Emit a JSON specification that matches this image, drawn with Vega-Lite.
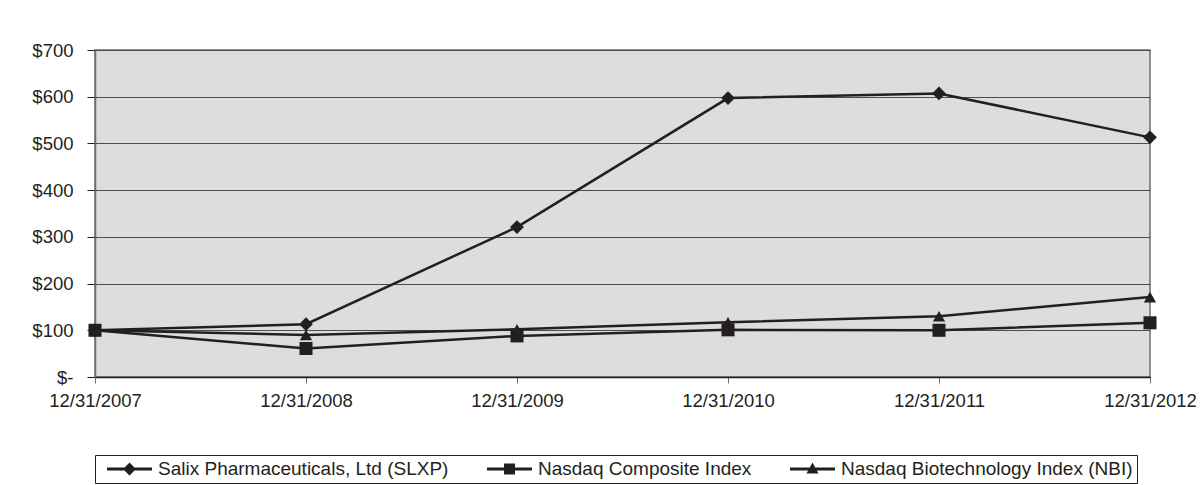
{
  "$schema": "https://vega.github.io/schema/vega-lite/v6.json",
  "width": 1055,
  "height": 327,
  "autosize": "none",
  "padding": {"left": 95, "top": 50, "right": 52, "bottom": 108},
  "background": "white",
  "config": {
    "font": "Liberation Sans",
    "view": {"fill": "#dcdddf", "stroke": "#6d6e71", "strokeWidth": 1.5},
    "axis": {"labelFont": "Liberation Sans", "labelFontSize": 18.5, "labelColor": "#231f20"}
  },
  "data": {
    "values": [
      {"date": "12/31/2007", "series": "Salix Pharmaceuticals, Ltd (SLXP)", "value": 100},
      {"date": "12/31/2008", "series": "Salix Pharmaceuticals, Ltd (SLXP)", "value": 113},
      {"date": "12/31/2009", "series": "Salix Pharmaceuticals, Ltd (SLXP)", "value": 321},
      {"date": "12/31/2010", "series": "Salix Pharmaceuticals, Ltd (SLXP)", "value": 597},
      {"date": "12/31/2011", "series": "Salix Pharmaceuticals, Ltd (SLXP)", "value": 607},
      {"date": "12/31/2012", "series": "Salix Pharmaceuticals, Ltd (SLXP)", "value": 513},
      {"date": "12/31/2007", "series": "Nasdaq Composite Index", "value": 100},
      {"date": "12/31/2008", "series": "Nasdaq Composite Index", "value": 61},
      {"date": "12/31/2009", "series": "Nasdaq Composite Index", "value": 88},
      {"date": "12/31/2010", "series": "Nasdaq Composite Index", "value": 101},
      {"date": "12/31/2011", "series": "Nasdaq Composite Index", "value": 100},
      {"date": "12/31/2012", "series": "Nasdaq Composite Index", "value": 116},
      {"date": "12/31/2007", "series": "Nasdaq Biotechnology Index (NBI)", "value": 100},
      {"date": "12/31/2008", "series": "Nasdaq Biotechnology Index (NBI)", "value": 90},
      {"date": "12/31/2009", "series": "Nasdaq Biotechnology Index (NBI)", "value": 102},
      {"date": "12/31/2010", "series": "Nasdaq Biotechnology Index (NBI)", "value": 117},
      {"date": "12/31/2011", "series": "Nasdaq Biotechnology Index (NBI)", "value": 130},
      {"date": "12/31/2012", "series": "Nasdaq Biotechnology Index (NBI)", "value": 171}
    ]
  },
  "encoding": {
    "x": {
      "field": "date", "type": "ordinal", "sort": null,
      "scale": {"type": "point", "padding": 0},
      "axis": {"title": null, "labelAngle": 0, "grid": false, "domain": true, "domainColor": "#231f20", "domainWidth": 1.5, "tickSize": 6, "tickColor": "#6d6e71", "labelPadding": 8}
    },
    "y": {
      "field": "value", "type": "quantitative",
      "scale": {"domain": [0, 700], "nice": false},
      "axis": {
        "title": null, "values": [0, 100, 200, 300, 400, 500, 600, 700],
        "labelExpr": "datum.value == 0 ? '$-\u00a0\u00a0\u00a0' : '$' + datum.value",
        "grid": true, "gridColor": "#4d4d4f", "gridWidth": 1.2,
        "domain": true, "domainColor": "#6d6e71", "domainWidth": 1.5,
        "tickSize": 8, "tickColor": "#231f20", "labelPadding": 14
      }
    }
  },
  "layer": [
    {
      "mark": {"type": "line", "color": "#231f20", "strokeWidth": 2.5},
      "encoding": {"detail": {"field": "series"}}
    },
    {
      "mark": {"type": "point", "filled": true, "color": "#231f20", "opacity": 1},
      "encoding": {
        "shape": {
          "field": "series",
          "scale": {"domain": ["Salix Pharmaceuticals, Ltd (SLXP)", "Nasdaq Composite Index", "Nasdaq Biotechnology Index (NBI)"], "range": ["diamond", "square", "triangle-up"]},
          "legend": null
        },
        "size": {
          "field": "series", "type": "nominal",
          "scale": {"domain": ["Salix Pharmaceuticals, Ltd (SLXP)", "Nasdaq Composite Index", "Nasdaq Biotechnology Index (NBI)"], "range": [190, 150, 170]},
          "legend": null
        }
      }
    },
    {
      "transform": [{"filter": "false"}],
      "mark": {"type": "point", "filled": true, "color": "#231f20", "opacity": 1},
      "encoding": {
        "shape": {
          "field": "series",
          "scale": {
            "domain": ["Salix Pharmaceuticals, Ltd (SLXP)", "Nasdaq Composite Index", "Nasdaq Biotechnology Index (NBI)"],
            "range": [
              "M-0.2,-0.14H4.3V0.14H-0.2Z M2.05,-0.65L2.7,0L2.05,0.65L1.4,0Z",
              "M-0.2,-0.14H4.3V0.14H-0.2Z M1.5,-0.55H2.6V0.55H1.5Z",
              "M-0.2,-0.14H4.3V0.14H-0.2Z M2.05,-0.65L2.65,0.45H1.45Z"
            ]
          },
          "legend": {
            "title": null, "orient": "none", "legendX": 0, "legendY": 405,
            "direction": "horizontal", "columns": 3, "columnPadding": 30,
            "symbolSize": 400, "symbolStrokeWidth": 0, "symbolFillColor": "#231f20",
            "labelFontSize": 19, "labelFont": "Liberation Sans", "labelColor": "#231f20", "labelOffset": 39,
            "strokeColor": "#231f20", "padding": 4, "fillColor": "white", "labelLimit": 400
          }
        }
      }
    }
  ],
  "resolve": {"scale": {"shape": "independent"}, "legend": {"shape": "independent"}}
}
